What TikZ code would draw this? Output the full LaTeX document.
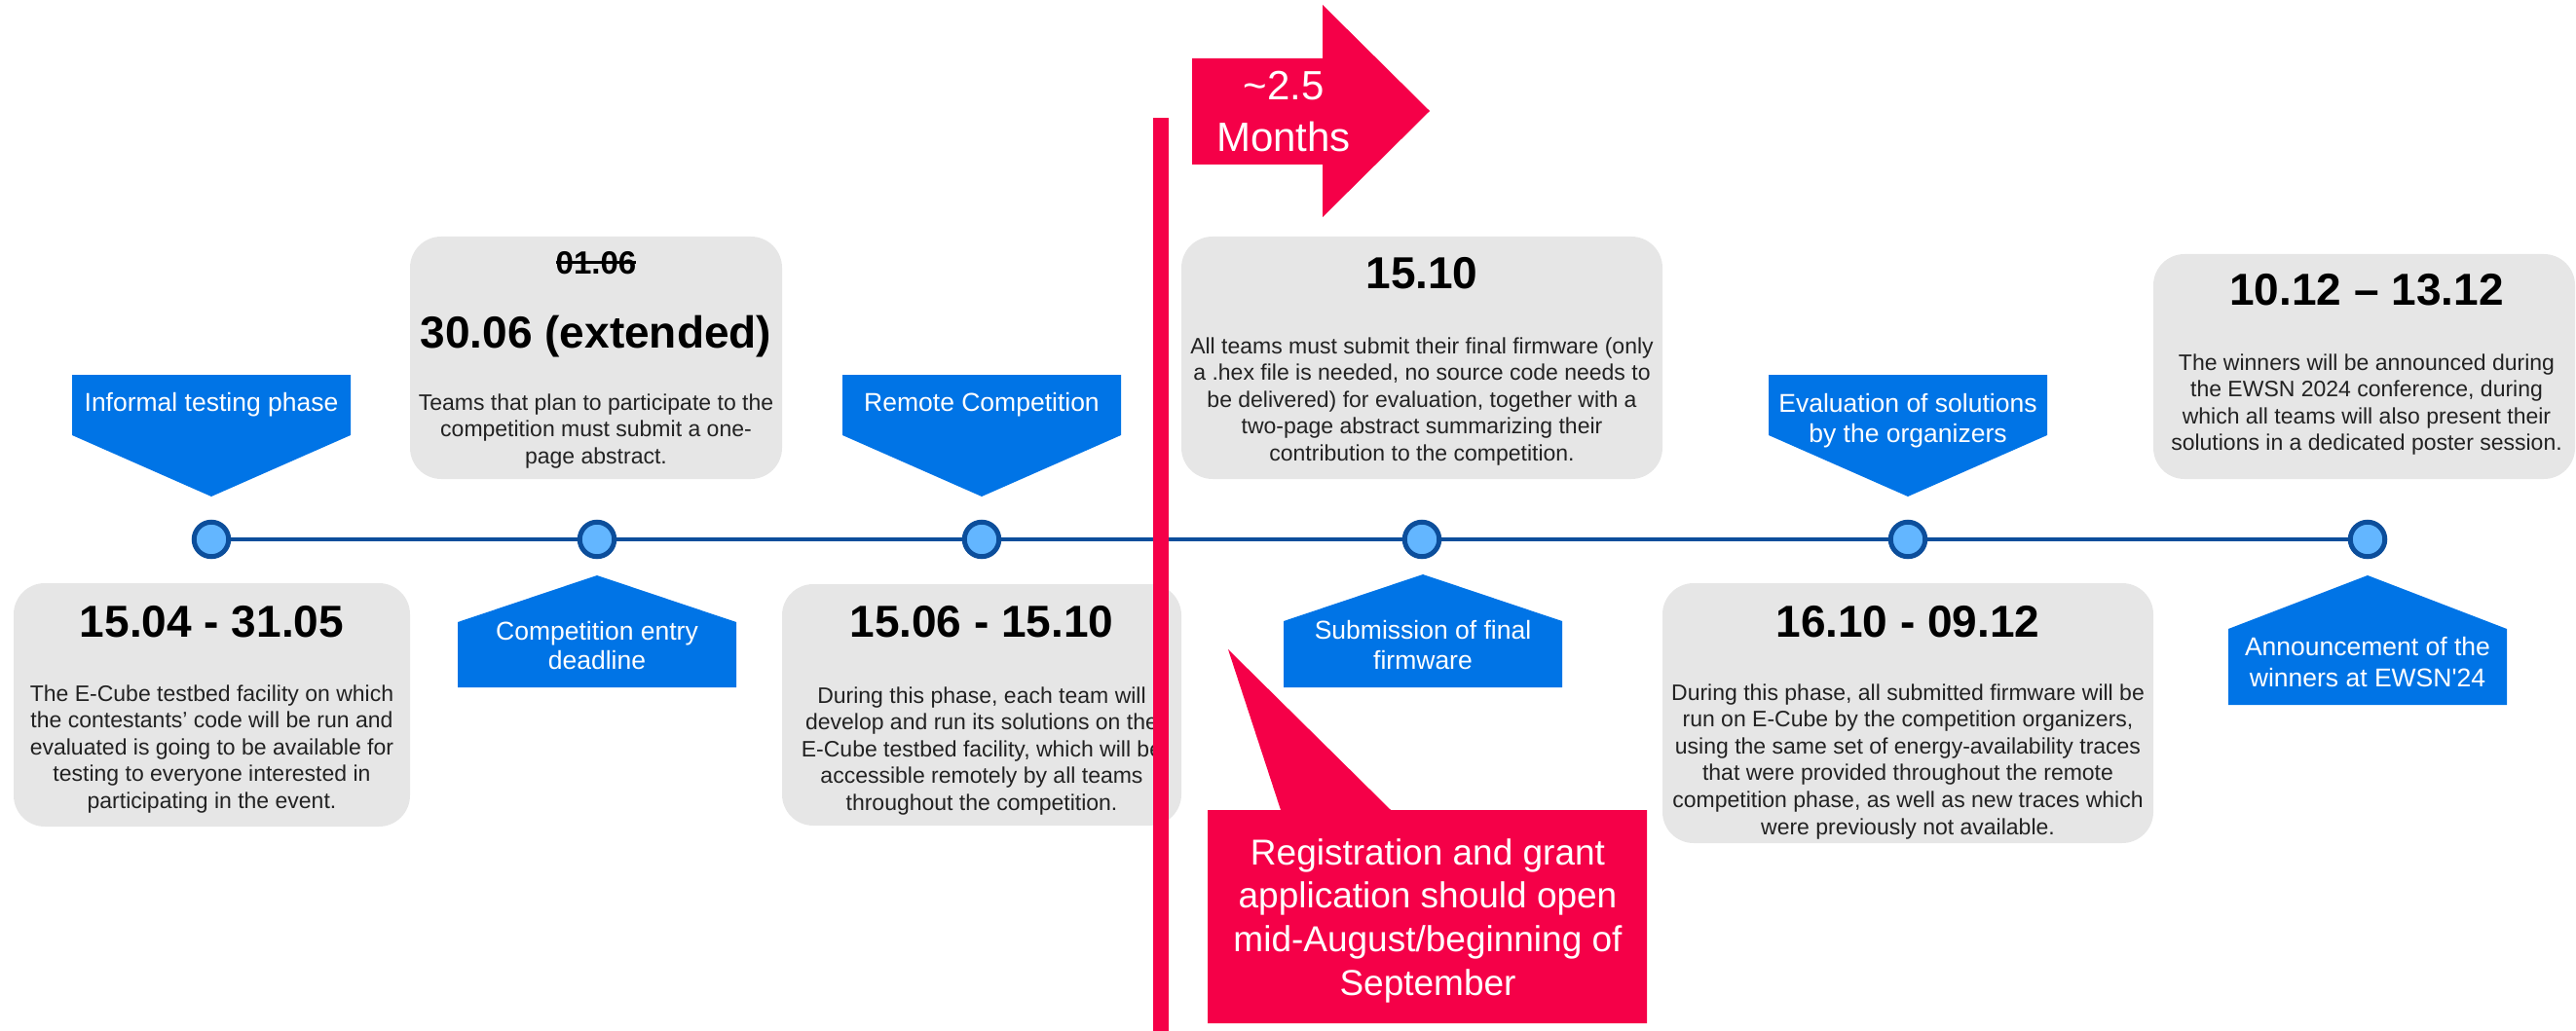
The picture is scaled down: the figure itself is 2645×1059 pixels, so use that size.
\documentclass[tikz,border=0pt]{standalone}
\usepackage{fontspec}
\setmainfont{Liberation Sans}
\definecolor{boxgray}{RGB}{230,230,230}
\definecolor{pentblue}{RGB}{0,116,230}
\definecolor{redc}{RGB}{245,0,72}
\definecolor{lightblue}{RGB}{99,182,255}
\definecolor{darkblue}{RGB}{12,78,155}
\definecolor{bodyc}{RGB}{34,34,34}
\newcommand\mlines[1]{\begin{tabular}[t]{@{}c@{}}#1\end{tabular}}
\begin{document}
\begin{tikzpicture}[x=1pt,y=-1pt,
  graybox/.style={fill=boxgray, rounded corners=32pt, inner sep=0pt, draw=none},
  titletext/.style={anchor=base, inner sep=0pt, font=\fontsize{46pt}{55pt}\selectfont\bfseries, text=black},
  bodytext/.style={anchor=base, inner sep=0pt, font=\fontsize{23pt}{27.6pt}\selectfont, text=bodyc},
  bluetext/.style={anchor=base, inner sep=0pt, text=white, font=\fontsize{26.5pt}{31pt}\selectfont},
  dot/.style={circle, draw=darkblue, fill=lightblue, line width=5pt, minimum size=35.5pt, inner sep=0pt},
  tline/.style={draw=darkblue, line width=4pt},
  bluepent/.style={fill=pentblue},
  redfill/.style={fill=redc}
]
\useasboundingbox (0,0) rectangle (2645,1059);

% gray boxes
\node[graybox, minimum width=407pt, minimum height=250pt] (b1) at (217.5,724) {};
\node[graybox, minimum width=382pt, minimum height=249pt] (b2) at (612,367.5) {};
\node[graybox, minimum width=410pt, minimum height=248pt] (b3) at (1008,724) {};
\node[graybox, minimum width=494pt, minimum height=249pt] (b4) at (1460,367.5) {};
\node[graybox, minimum width=504pt, minimum height=267pt] (b5) at (1959,732.5) {};
\node[graybox, minimum width=433pt, minimum height=231pt] (b6) at (2427.5,376.5) {};

% titles
\node[titletext] (t1) at (217.5,654) {15.04 - 31.05};
\node[titletext, font=\fontsize{33pt}{40pt}\selectfont\bfseries] (t2a) at (612,282) {01.06};
\draw[line width=3pt, black] ([yshift=12pt]t2a.base west) -- ([yshift=12pt]t2a.base east);
\node[titletext] (t2) at (612,357) {30.06 (extended)};
\node[titletext] (t3) at (1008,654) {15.06 - 15.10};
\node[titletext] (t4) at (1460,297) {15.10};
\node[titletext] (t5) at (1959,654) {16.10 - 09.12};
\node[titletext] (t6) at (2430,314) {10.12 – 13.12};

% body texts
\node[bodytext] (d1) at (217.5,720) {\mlines{The E-Cube testbed facility on which\\the contestants’ code will be run and\\evaluated is going to be available for\\testing to everyone interested in\\participating in the event.}};
\node[bodytext] (d2) at (612,421) {\mlines{Teams that plan to participate to the\\competition must submit a one-\\page abstract.}};
\node[bodytext] (d3) at (1008,722) {\mlines{During this phase, each team will\\develop and run its solutions on the\\E-Cube testbed facility, which will be\\accessible remotely by all teams\\throughout the competition.}};
\node[bodytext] (d4) at (1460,363) {\mlines{All teams must submit their final firmware (only\\a .hex file is needed, no source code needs to\\be delivered) for evaluation, together with a\\two-page abstract summarizing their\\contribution to the competition.}};
\node[bodytext] (d5) at (1959,719) {\mlines{During this phase, all submitted firmware will be\\run on E-Cube by the competition organizers,\\using the same set of energy-availability traces\\that were provided throughout the remote\\competition phase, as well as new traces which\\were previously not available.}};
\node[bodytext] (d6) at (2430,380) {\mlines{The winners will be announced during\\the EWSN 2024 conference, during\\which all teams will also present their\\solutions in a dedicated poster session.}};

% blue pentagons (down)
\fill[bluepent] (74,385) -- (360,385) -- (360,447) -- (217,510) -- (74,447) -- cycle;
\fill[bluepent] (865,385) -- (1151,385) -- (1151,447) -- (1008,510) -- (865,447) -- cycle;
\fill[bluepent] (1816,385) -- (2102,385) -- (2102,447) -- (1959,510) -- (1816,447) -- cycle;
% blue pentagons (up)
\fill[bluepent] (613,591) -- (756,639) -- (756,706) -- (470,706) -- (470,639) -- cycle;
\fill[bluepent] (1461,590) -- (1604,638) -- (1604,706) -- (1318,706) -- (1318,638) -- cycle;
\fill[bluepent] (2431,591) -- (2574,646) -- (2574,724) -- (2288,724) -- (2288,646) -- cycle;

% pentagon labels
\node[bluetext] (l1) at (217,422) {Informal testing phase};
\node[bluetext] (l3) at (1008,422) {Remote Competition};
\node[bluetext] (l5) at (1959,423) {\mlines{Evaluation of solutions\\by the organizers}};
\node[bluetext, font=\fontsize{26.5pt}{30.5pt}\selectfont] (l2) at (613,657) {\mlines{Competition entry\\deadline}};
\node[bluetext, font=\fontsize{26.5pt}{31pt}\selectfont] (l4) at (1461,656) {\mlines{Submission of final\\firmware}};
\node[bluetext, font=\fontsize{26.5pt}{32.5pt}\selectfont] (l6) at (2431,673) {\mlines{Announcement of the\\winners at EWSN\textquotesingle 24}};

% timeline
\node[dot] (c1) at (217,554) {};
\node[dot] (c2) at (613,554) {};
\node[dot] (c3) at (1008,554) {};
\node[dot] (c4) at (1460,554) {};
\node[dot] (c5) at (1959,554) {};
\node[dot] (c6) at (2431,554) {};
\draw[tline] (c1) -- (c2) (c2) -- (c3) (c3) -- (c4) (c4) -- (c5) (c5) -- (c6);

% red vertical line
\fill[redfill] (1184,121) rectangle (1200,1059);

% red arrow
\fill[redfill] (1224,60) -- (1358,60) -- (1358,5) -- (1468,114) -- (1358,223) -- (1358,169) -- (1224,169) -- cycle;
\node[anchor=base, inner sep=0pt, text=white, font=\fontsize{42pt}{53pt}\selectfont] (arr) at (1318,103) {\mlines{\textasciitilde 2.5\\Months}};

% red callout
\fill[redfill] (1240,832) -- (1315,832) -- (1261,667) -- (1428,832) -- (1691,832) -- (1691,1051) -- (1240,1051) -- cycle;
\node[anchor=base, inner sep=0pt, text=white, font=\fontsize{37pt}{44.7pt}\selectfont] (call) at (1466,888) {\mlines{Registration and grant\\application should open\\mid-August/beginning of\\September}};
\end{tikzpicture}
\end{document}
